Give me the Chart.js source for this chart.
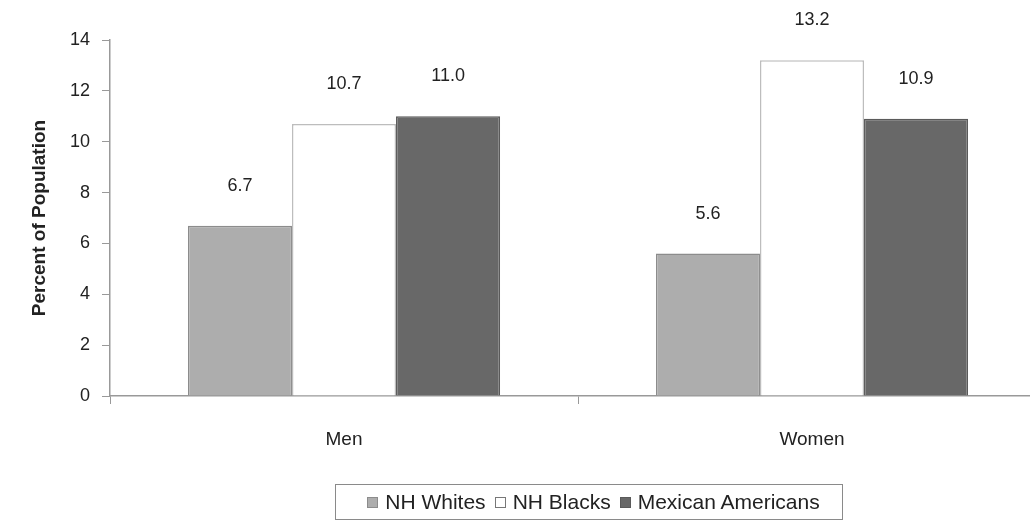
<!doctype html>
<html lang="en">
<head>
  <meta charset="utf-8">
  <title>Percent of Population by Sex and Race/Ethnicity</title>
  <script src="https://cdn.jsdelivr.net/npm/chart.js"></script>
  <style>
    html, body { margin: 0; padding: 0; background: #fff; overflow: hidden; }
    body { width: 1030px; height: 532px; position: relative; font-family: "Liberation Sans", Arial, sans-serif; }
    #chart { position: absolute; left: 0; top: 0; }
    #legend {
      position: absolute; left: 335px; top: 484px; width: 508px; height: 36px;
      border: 1px solid #8a8a8a; box-sizing: border-box;
      display: flex; align-items: center; justify-content: center;
      font-size: 21px; color: #222; white-space: nowrap;
    }
    #legend span.box { display: inline-block; width: 11px; height: 11px; margin: 0 7px 0 9px; box-sizing: border-box; }
  </style>
</head>
<body>
  <canvas id="chart" width="1046" height="532"></canvas>
  <div id="legend"></div>
  <script>
    const categories = ['Men', 'Women'];
    const seriesNames = ['NH Whites', 'NH Blacks', 'Mexican Americans'];
    const nhWhites = [6.7, 5.6];
    const nhBlacks = [10.7, 13.2];
    const mexicanAmericans = [11.0, 10.9];
    const yTicks = [0, 2, 4, 6, 8, 10, 12, 14];

    const fills = ['#adadad', '#ffffff', '#686868'];
    const borders = ['#8c8c8c', '#bdbdbd', '#5a5a5a'];
    const values = [nhWhites, nhBlacks, mexicanAmericans];

    // value labels floating above each bar
    const barLabels = {
      id: 'barLabels',
      afterDatasetsDraw(chart) {
        const ctx = chart.ctx;
        ctx.save();
        ctx.font = '18px "Liberation Sans", Arial, sans-serif';
        ctx.fillStyle = '#222';
        ctx.textAlign = 'center';
        ctx.textBaseline = 'middle';
        chart.data.datasets.forEach((ds, i) => {
          chart.getDatasetMeta(i).data.forEach((bar, j) => {
            ctx.fillText(ds.data[j].toFixed(1), bar.x, bar.y - 40);
          });
        });
        ctx.restore();
      }
    };

    new Chart(document.getElementById('chart'), {
      type: 'bar',
      data: {
        labels: categories,
        datasets: seriesNames.map((name, i) => ({
          label: name,
          data: values[i],
          backgroundColor: fills[i],
          borderColor: borders[i],
          borderWidth: 1.5,
          borderSkipped: 'bottom',
          barPercentage: 1,
          categoryPercentage: 0.667
        }))
      },
      options: {
        responsive: false,
        animation: false,
        layout: { padding: { left: 24, right: 0, top: 40, bottom: 0 } },
        plugins: { legend: { display: false }, tooltip: { enabled: false } },
        scales: {
          x: {
            afterFit(scale) { scale.height = 136; },
            grid: { drawOnChartArea: false, drawTicks: true, tickLength: 8, color: '#999' },
            border: { color: '#999', width: 1.5 },
            ticks: { color: '#222', padding: 24, font: { family: '"Liberation Sans", Arial, sans-serif', size: 19 } }
          },
          y: {
            min: 0, max: 14,
            afterFit(scale) { scale.width = 86; },
            afterBuildTicks(scale) { scale.ticks = yTicks.map(v => ({ value: v })); },
            grid: { drawOnChartArea: false, drawTicks: true, tickLength: 8, color: '#999' },
            border: { color: '#999', width: 1.5 },
            ticks: { color: '#222', padding: 12, font: { family: '"Liberation Sans", Arial, sans-serif', size: 18 } },
            title: {
              display: true, text: 'Percent of Population', color: '#222',
              font: { family: '"Liberation Sans", Arial, sans-serif', size: 19, weight: 'bold' }
            }
          }
        }
      },
      plugins: [barLabels]
    });

    const legend = document.getElementById('legend');
    seriesNames.forEach((name, i) => {
      const box = document.createElement('span');
      box.className = 'box';
      box.style.background = fills[i];
      box.style.border = '1px solid ' + (i === 1 ? '#777' : borders[i]);
      legend.appendChild(box);
      legend.appendChild(document.createTextNode(name));
    });
  </script>
</body>
</html>
